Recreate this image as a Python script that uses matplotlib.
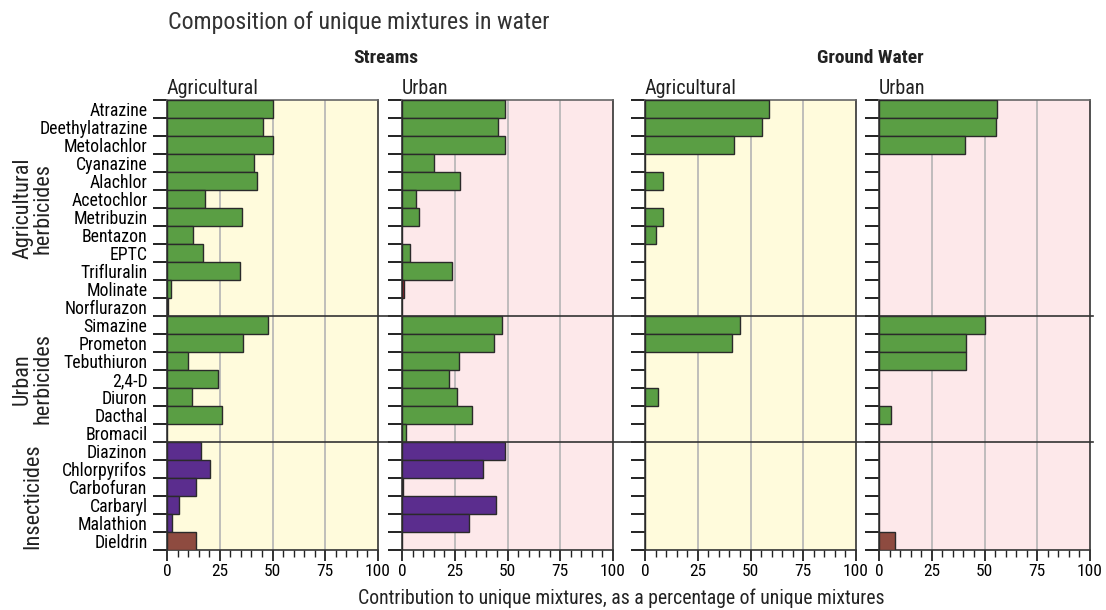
import matplotlib
matplotlib.use("Agg")
import matplotlib.pyplot as plt
from matplotlib.lines import Line2D
import matplotlib.font_manager as fm
import numpy as np

# condensed face if we have one, otherwise Roboto
names = {f.name for f in fm.fontManager.ttflist}
fams = [f for f in ["Liberation Sans Narrow", "Roboto Condensed", "Roboto", "DejaVu Sans"] if f in names]
plt.rcParams['font.family'] = fams
plt.rcParams['font.stretch'] = 'condensed'

compounds = ["Atrazine", "Deethylatrazine", "Metolachlor", "Cyanazine", "Alachlor",
             "Acetochlor", "Metribuzin", "Bentazon", "EPTC", "Trifluralin", "Molinate",
             "Norflurazon",
             "Simazine", "Prometon", "Tebuthiuron", "2,4-D", "Diuron", "Dacthal", "Bromacil",
             "Diazinon", "Chlorpyrifos", "Carbofuran", "Carbaryl", "Malathion", "Dieldrin"]

streams_ag = [50, 45.7, 50, 41.2, 42.5, 17.9, 35.7, 12.2, 17, 34.8, 1.7, 0.6,
              48, 35.9, 9.8, 24.2, 11.7, 25.9, 0,
              16.1, 20.4, 13.6, 5.5, 2.2, 13.6]
streams_urb = [48.9, 45.3, 48.9, 15.3, 27.7, 6.6, 7.9, 0, 3.6, 23.6, 0.8, 0,
               47.2, 43.4, 27.2, 22.2, 26, 33.4, 1.7,
               48.9, 38.4, 0.6, 44.6, 31.6, 0]
gw_ag = [58.6, 55.6, 42, 0, 8.5, 0, 8.5, 5.4, 0, 0, 0, 0,
         45, 41.4, 0, 0, 6.2, 0, 0,
         0, 0, 0, 0, 0, 0]
gw_urb = [56.1, 55.5, 40.8, 0, 0, 0, 0, 0, 0, 0, 0, 0,
          50.1, 41.2, 41.2, 0, 0, 5.5, 0,
          0, 0, 0, 0, 0, 7.4]

panel_titles = ["Agricultural", "Urban", "Agricultural", "Urban"]
group_titles = ["Streams", "Ground Water"]
group_labels = ["Agricultural\nherbicides", "Urban\nherbicides", "Insecticides"]
group_sizes = [12, 7, 6]

GREEN = "#5a9e44"
PURPLE = "#5b2d8e"
BROWN = "#8e4b40"
YELLOW_BG = "#fffbdc"
PINK_BG = "#fde8ea"

base_colors = [GREEN] * 19 + [PURPLE] * 5 + [BROWN]
panel_colors = [list(base_colors) for _ in range(4)]
panel_colors[0][11] = "#f0a020"   # Norflurazon sliver
panel_colors[1][10] = "#a0202a"   # Molinate sliver
panel_colors[1][21] = "#333333"   # Carbofuran sliver

W, H = 1106, 610
fig = plt.figure(figsize=(W / 100, H / 100), dpi=100)
fig.patch.set_facecolor("white")

lefts = [167, 402, 645, 879]
pw = 211
top, bottom = 100, 550
backgrounds = [YELLOW_BG, PINK_BG, YELLOW_BG, PINK_BG]
data = [streams_ag, streams_urb, gw_ag, gw_urb]
n = len(compounds)
ypos = np.arange(n)

for i, (lx, vals) in enumerate(zip(lefts, data)):
    ax = fig.add_axes([lx / W, (H - bottom) / H, pw / W, (bottom - top) / H])
    ax.set_facecolor(backgrounds[i])
    ax.set_xlim(0, 100)
    ax.set_ylim(n - 0.5, -0.5)
    for g in [25, 50, 75]:
        ax.axvline(g, color="#b4b4b4", lw=1.2, zorder=1)
    ax.barh(ypos, vals, height=1.0, color=panel_colors[i], edgecolor="#2a2a2a",
            linewidth=1.0, zorder=3)
    for s in ax.spines.values():
        s.set_color("#333333")
        s.set_linewidth(1.2)
    ax.spines["top"].set_color("#666666")
    ax.set_xticks([0, 25, 50, 75, 100])
    ax.set_xticks(np.arange(0, 101, 5), minor=True)
    ax.set_xticklabels(["0", "25", "50", "75", "100"], fontsize=12.5)
    ax.tick_params(axis="x", which="major", direction="out", length=8, width=1.3,
                   color="#222222", pad=2)
    ax.tick_params(axis="x", which="minor", direction="out", length=5, width=1.0,
                   color="#222222")
    ax.set_yticks(np.arange(-0.5, n, 1.0))
    ax.set_yticklabels([])
    ax.tick_params(axis="y", which="major", direction="out", length=10, width=1.4,
                   color="#222222")
    ax.set_yticks(ypos, minor=True)
    if i == 0:
        ax.set_yticklabels(compounds, minor=True, fontsize=12.8)
    ax.tick_params(axis="y", which="minor", length=0, pad=14)
    ax.set_title(panel_titles[i], loc="left", fontsize=14.5, pad=4, color="#222222")

fig.text(386 / W, 1 - 58 / H, group_titles[0], fontsize=14, fontweight="bold",
         ha="center", va="center", color="#222222")
fig.text(870 / W, 1 - 58 / H, group_titles[1], fontsize=14, fontweight="bold",
         ha="center", va="center", color="#222222")
fig.text(168 / W, 1 - 22 / H, "Composition of unique mixtures in water", fontsize=17.2,
         ha="left", va="center", color="#333333")
fig.text(621 / W, 1 - 598 / H,
         "Contribution to unique mixtures, as a percentage of unique mixtures",
         fontsize=14.2, ha="center", va="center", color="#222222")

# group labels and separators across all panels
row_h = (bottom - top) / n
start = 0
for k, size in enumerate(group_sizes):
    yc = top + (start + size / 2) * row_h
    fig.text(33 / W, 1 - yc / H, group_labels[k], rotation=90, fontsize=16,
             ha="center", va="center", color="#222222", linespacing=1.0)
    start += size
    if k < len(group_sizes) - 1:
        yl = 1 - (top + start * row_h) / H
        fig.add_artist(Line2D([155 / W, 1093 / W], [yl, yl], color="#333333", lw=1.2))

fig.savefig("out.png", dpi=100)
